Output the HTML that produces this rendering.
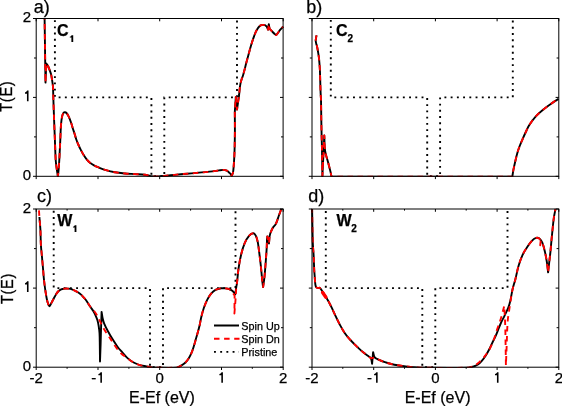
<!DOCTYPE html>
<html><head><meta charset="utf-8"><style>
html,body{margin:0;padding:0;background:#fff;width:562px;height:406px;overflow:hidden}
svg{display:block;will-change:transform;font-family:"Liberation Sans",sans-serif}
</style></head><body>
<svg width="562" height="406" viewBox="0 0 562 406">
<defs><clipPath id="cla"><rect x="35.2" y="18.0" width="248.9" height="158.8"/></clipPath><clipPath id="clb"><rect x="311.0" y="18.0" width="248.8" height="158.8"/></clipPath><clipPath id="clc"><rect x="35.2" y="208.5" width="248.9" height="159.2"/></clipPath><clipPath id="cld"><rect x="311.0" y="208.5" width="248.8" height="159.2"/></clipPath></defs>
<rect width="562" height="406" fill="#fff"/>
<g clip-path="url(#cla)">
<polyline points="54.9,18.5 54.9,97.4 151.4,97.4 151.4,176.3 164.3,176.3 164.3,97.4 237.0,97.4 237.0,18.5" fill="none" stroke="#000" stroke-width="1.9" stroke-dasharray="1.9 4.33" stroke-dashoffset="4.58"/>
<path d="M44.60 18.40C44.70 25.60 44.80 32.80 44.90 40.00C45.00 47.33 45.10 54.67 45.20 62.00C45.30 68.87 45.40 75.73 45.50 82.60L46.30 63.50C46.87 64.33 47.54 65.11 48.00 66.00C48.61 67.18 49.03 68.45 49.50 69.70C50.03 71.12 50.63 72.53 51.00 74.00C51.46 75.80 51.71 77.66 52.00 79.50C52.34 81.66 52.75 83.82 52.90 86.00C53.22 90.65 53.24 95.33 53.40 100.00C53.64 106.67 53.85 113.33 54.10 120.00C54.35 126.67 54.63 133.33 54.90 140.00C55.17 146.67 55.30 153.34 55.70 160.00C55.86 162.68 56.24 165.34 56.60 168.00C56.97 170.77 57.47 173.53 57.90 176.30C58.13 174.20 58.42 172.10 58.60 170.00C58.89 166.67 59.10 163.34 59.30 160.00C59.50 156.67 59.63 153.33 59.80 150.00C59.97 146.67 60.15 143.33 60.30 140.00C60.48 136.00 60.56 132.00 60.80 128.00C60.96 125.33 61.15 122.65 61.50 120.00C61.72 118.32 62.01 116.61 62.50 115.00C62.75 114.18 63.16 113.31 63.70 112.70C63.96 112.41 64.51 112.26 64.90 112.30C65.44 112.36 66.10 112.60 66.50 113.00C67.20 113.70 67.71 114.69 68.20 115.60C68.77 116.66 69.25 117.78 69.70 118.90C70.25 120.25 70.74 121.62 71.20 123.00C71.71 124.55 72.11 126.14 72.60 127.70C73.21 129.64 73.89 131.56 74.50 133.50C75.12 135.49 75.61 137.53 76.30 139.50C76.95 141.36 77.72 143.19 78.50 145.00C79.22 146.66 79.98 148.29 80.80 149.90C81.65 151.56 82.52 153.22 83.50 154.80C84.48 156.38 85.53 157.96 86.70 159.40C87.69 160.62 88.79 161.80 90.00 162.80C91.22 163.80 92.60 164.65 94.00 165.40C95.60 166.25 97.31 166.92 99.00 167.60C100.98 168.39 102.96 169.20 105.00 169.80C108.29 170.77 111.63 171.68 115.00 172.30C118.29 172.91 121.66 173.20 125.00 173.50C128.32 173.80 131.67 173.88 135.00 174.10C138.33 174.32 141.70 174.37 145.00 174.80C146.86 175.04 148.65 175.78 150.50 176.10C152.08 176.38 153.70 176.61 155.30 176.60C158.26 176.58 161.24 176.28 164.20 176.00C168.37 175.61 172.53 175.00 176.70 174.60C182.63 174.03 188.57 173.63 194.50 173.10C200.44 172.57 206.38 172.06 212.30 171.40C214.51 171.16 216.70 170.70 218.90 170.40C220.40 170.20 221.91 169.84 223.40 169.90C224.55 169.94 225.79 170.18 226.80 170.70C227.93 171.28 228.88 172.28 229.80 173.20C230.55 173.95 231.13 174.87 231.80 175.70C232.20 174.67 232.80 173.68 233.00 172.60C233.47 170.02 233.59 167.34 233.80 164.70C234.06 161.40 234.25 158.10 234.40 154.80C234.55 151.50 234.63 148.20 234.70 144.90C234.80 139.93 234.88 134.97 234.90 130.00C234.92 124.00 234.83 118.00 234.80 112.00L235.80 97.00L237.00 109.50L239.10 95.00C239.33 92.67 239.52 90.33 239.80 88.00C239.99 86.46 240.20 84.92 240.50 83.40C240.73 82.25 241.05 81.12 241.40 80.00C241.88 78.48 242.56 77.03 243.00 75.50C244.26 71.06 245.32 66.56 246.50 62.10C247.48 58.40 248.49 54.70 249.50 51.00C250.02 49.10 250.53 47.19 251.10 45.30C251.80 42.99 252.50 40.68 253.30 38.40C254.10 36.14 254.91 33.87 255.90 31.70C256.51 30.37 257.25 29.08 258.10 27.90C258.72 27.05 259.45 26.17 260.30 25.60C260.95 25.17 261.82 24.97 262.60 24.90C263.32 24.84 264.12 24.96 264.80 25.20C265.45 25.43 266.00 25.93 266.60 26.30L268.10 29.70L268.80 24.10L269.60 28.90C270.47 29.77 271.33 30.63 272.20 31.50C272.93 32.23 273.62 33.02 274.40 33.70C274.96 34.19 275.68 35.15 276.20 35.00C276.91 34.79 277.48 33.41 278.10 32.60C278.84 31.64 279.52 30.62 280.30 29.70C281.18 28.66 282.17 27.70 283.10 26.70" fill="none" stroke="#000" stroke-width="1.9" stroke-linejoin="round"/>
<path d="M44.60 18.40C44.70 25.60 44.80 32.80 44.90 40.00C45.00 47.33 45.10 54.67 45.20 62.00C45.30 68.87 45.40 75.73 45.50 82.60L46.30 63.50C46.87 64.33 47.54 65.11 48.00 66.00C48.61 67.18 49.03 68.45 49.50 69.70C50.03 71.12 50.63 72.53 51.00 74.00C51.46 75.80 51.71 77.66 52.00 79.50C52.34 81.66 52.75 83.82 52.90 86.00C53.22 90.65 53.24 95.33 53.40 100.00C53.64 106.67 53.85 113.33 54.10 120.00C54.35 126.67 54.63 133.33 54.90 140.00C55.17 146.67 55.30 153.34 55.70 160.00C55.86 162.68 56.24 165.34 56.60 168.00C56.97 170.77 57.47 173.53 57.90 176.30C58.13 174.20 58.42 172.10 58.60 170.00C58.89 166.67 59.10 163.34 59.30 160.00C59.50 156.67 59.63 153.33 59.80 150.00C59.97 146.67 60.15 143.33 60.30 140.00C60.48 136.00 60.56 132.00 60.80 128.00C60.96 125.33 61.15 122.65 61.50 120.00C61.72 118.32 62.01 116.61 62.50 115.00C62.75 114.18 63.16 113.31 63.70 112.70C63.96 112.41 64.51 112.26 64.90 112.30C65.44 112.36 66.10 112.60 66.50 113.00C67.20 113.70 67.71 114.69 68.20 115.60C68.77 116.66 69.25 117.78 69.70 118.90C70.25 120.25 70.74 121.62 71.20 123.00C71.71 124.55 72.11 126.14 72.60 127.70C73.21 129.64 73.89 131.56 74.50 133.50C75.12 135.49 75.61 137.53 76.30 139.50C76.95 141.36 77.72 143.19 78.50 145.00C79.22 146.66 79.98 148.29 80.80 149.90C81.65 151.56 82.52 153.22 83.50 154.80C84.48 156.38 85.53 157.96 86.70 159.40C87.69 160.62 88.79 161.80 90.00 162.80C91.22 163.80 92.60 164.65 94.00 165.40C95.60 166.25 97.31 166.92 99.00 167.60C100.98 168.39 102.96 169.20 105.00 169.80C108.29 170.77 111.63 171.68 115.00 172.30C118.29 172.91 121.66 173.20 125.00 173.50C128.32 173.80 131.67 173.88 135.00 174.10C138.33 174.32 141.70 174.37 145.00 174.80C146.86 175.04 148.65 175.78 150.50 176.10C152.08 176.38 153.70 176.61 155.30 176.60C158.26 176.58 161.24 176.28 164.20 176.00C168.37 175.61 172.53 175.00 176.70 174.60C182.63 174.03 188.57 173.63 194.50 173.10C200.44 172.57 206.38 172.06 212.30 171.40C214.51 171.16 216.70 170.70 218.90 170.40C220.40 170.20 221.91 169.84 223.40 169.90C224.55 169.94 225.79 170.18 226.80 170.70C227.93 171.28 228.88 172.28 229.80 173.20C230.55 173.95 231.13 174.87 231.80 175.70C232.20 174.67 232.80 173.68 233.00 172.60C233.47 170.02 233.59 167.34 233.80 164.70C234.06 161.40 234.25 158.10 234.40 154.80C234.55 151.50 234.63 148.20 234.70 144.90C234.80 139.93 234.88 134.97 234.90 130.00C234.92 124.00 234.83 118.00 234.80 112.00L235.80 97.00L237.00 109.50L239.10 95.00C239.33 92.67 239.52 90.33 239.80 88.00C239.99 86.46 240.20 84.92 240.50 83.40C240.73 82.25 241.05 81.12 241.40 80.00C241.88 78.48 242.56 77.03 243.00 75.50C244.26 71.06 245.32 66.56 246.50 62.10C247.48 58.40 248.49 54.70 249.50 51.00C250.02 49.10 250.53 47.19 251.10 45.30C251.80 42.99 252.50 40.68 253.30 38.40C254.10 36.14 254.91 33.87 255.90 31.70C256.51 30.37 257.25 29.08 258.10 27.90C258.72 27.05 259.45 26.17 260.30 25.60C260.95 25.17 261.82 24.97 262.60 24.90C263.32 24.84 264.12 24.96 264.80 25.20C265.45 25.43 266.00 25.93 266.60 26.30L268.10 29.70L268.80 24.10L269.60 28.90C270.47 29.77 271.33 30.63 272.20 31.50C272.93 32.23 273.62 33.02 274.40 33.70C274.96 34.19 275.68 35.15 276.20 35.00C276.91 34.79 277.48 33.41 278.10 32.60C278.84 31.64 279.52 30.62 280.30 29.70C281.18 28.66 282.17 27.70 283.10 26.70" fill="none" stroke="#f00" stroke-width="1.9" stroke-dasharray="5.5 4.5" stroke-dashoffset="4.50" stroke-linejoin="round"/>
</g>
<g clip-path="url(#clb)">
<polyline points="330.8,18.5 330.8,97.4 427.2,97.4 427.2,176.3 440.1,176.3 440.1,97.4 512.8,97.4 512.8,18.5" fill="none" stroke="#000" stroke-width="1.9" stroke-dasharray="1.9 4.33" stroke-dashoffset="4.78"/>
<path d="M316.50 35.40C316.23 37.10 315.74 38.80 315.70 40.50C315.67 41.67 316.03 42.85 316.30 44.00C316.43 44.58 316.77 45.11 316.90 45.70C317.34 47.65 317.67 49.63 318.00 51.60C318.33 53.56 318.66 55.53 318.90 57.50C319.16 59.66 319.33 61.83 319.50 64.00C319.66 66.00 319.81 68.00 319.90 70.00C320.04 73.26 320.10 76.53 320.20 79.80C320.33 84.07 320.43 88.33 320.60 92.60C320.70 95.07 320.94 97.53 321.00 100.00C321.17 106.66 321.19 113.33 321.30 120.00C321.39 125.00 321.48 130.00 321.60 135.00C321.72 140.00 321.90 145.00 322.00 150.00C322.17 158.73 322.27 167.47 322.40 176.20L324.30 135.50C324.57 140.63 324.39 145.83 325.10 150.90C325.63 154.67 327.04 158.30 328.00 162.00C328.84 165.26 329.72 168.52 330.50 171.80C330.89 173.42 331.17 175.07 331.50 176.70L512.30 176.70C512.70 174.27 513.03 171.82 513.50 169.40C514.06 166.52 514.74 163.66 515.40 160.80C515.97 158.33 516.49 155.84 517.20 153.40C517.93 150.90 518.78 148.43 519.70 146.00C520.65 143.50 521.73 141.05 522.80 138.60C523.99 135.88 525.24 133.19 526.50 130.50C527.30 128.79 527.97 126.98 529.00 125.40C530.94 122.41 532.99 119.41 535.40 116.80C538.09 113.88 541.21 111.31 544.30 108.80C547.11 106.51 550.13 104.47 553.10 102.40C554.86 101.17 556.70 100.07 558.50 98.90" fill="none" stroke="#000" stroke-width="1.9" stroke-linejoin="round"/>
<path d="M316.50 35.40C316.23 37.10 315.74 38.80 315.70 40.50C315.67 41.67 316.03 42.85 316.30 44.00C316.43 44.58 316.77 45.11 316.90 45.70C317.34 47.65 317.67 49.63 318.00 51.60C318.33 53.56 318.66 55.53 318.90 57.50C319.16 59.66 319.33 61.83 319.50 64.00C319.66 66.00 319.81 68.00 319.90 70.00C320.04 73.26 320.10 76.53 320.20 79.80C320.33 84.07 320.43 88.33 320.60 92.60C320.70 95.07 320.94 97.53 321.00 100.00C321.17 106.66 321.19 113.33 321.30 120.00C321.39 125.00 321.48 130.00 321.60 135.00C321.72 140.00 321.90 145.00 322.00 150.00C322.17 158.73 322.27 167.47 322.40 176.20L324.30 135.50C324.57 140.63 324.39 145.83 325.10 150.90C325.63 154.67 327.04 158.30 328.00 162.00C328.84 165.26 329.72 168.52 330.50 171.80C330.89 173.42 331.17 175.07 331.50 176.70L512.30 176.70C512.70 174.27 513.03 171.82 513.50 169.40C514.06 166.52 514.74 163.66 515.40 160.80C515.97 158.33 516.49 155.84 517.20 153.40C517.93 150.90 518.78 148.43 519.70 146.00C520.65 143.50 521.73 141.05 522.80 138.60C523.99 135.88 525.24 133.19 526.50 130.50C527.30 128.79 527.97 126.98 529.00 125.40C530.94 122.41 532.99 119.41 535.40 116.80C538.09 113.88 541.21 111.31 544.30 108.80C547.11 106.51 550.13 104.47 553.10 102.40C554.86 101.17 556.70 100.07 558.50 98.90" fill="none" stroke="#f00" stroke-width="1.9" stroke-dasharray="5.5 4.5" stroke-dashoffset="0.00" stroke-linejoin="round"/>
</g>
<g clip-path="url(#clc)">
<polyline points="53.7,209.0 53.7,288.1 150.0,288.1 150.0,367.2 163.0,367.2 163.0,288.1 235.5,288.1 235.5,209.0" fill="none" stroke="#000" stroke-width="1.9" stroke-dasharray="1.9 4.33" stroke-dashoffset="4.38"/>
<path d="M39.40 217.00C39.73 221.20 40.17 225.39 40.40 229.60C40.67 234.73 40.61 239.87 40.90 245.00C41.11 248.67 41.57 252.33 41.90 256.00C42.30 260.50 42.71 265.00 43.10 269.50C43.34 272.33 43.53 275.17 43.80 278.00C44.03 280.34 44.30 282.67 44.60 285.00C44.90 287.34 45.23 289.67 45.60 292.00C45.97 294.34 46.31 296.69 46.80 299.00C47.14 300.62 47.55 302.25 48.10 303.80C48.41 304.68 48.93 306.23 49.40 306.30C49.83 306.36 50.38 304.93 50.80 304.20C51.35 303.23 51.79 302.19 52.30 301.20C52.82 300.19 53.35 299.19 53.90 298.20C54.59 296.96 55.25 295.70 56.00 294.50C56.65 293.47 57.29 292.39 58.10 291.50C58.69 290.86 59.45 290.34 60.20 289.90C60.88 289.51 61.64 289.21 62.40 289.00C63.24 288.77 64.13 288.67 65.00 288.60C65.89 288.53 66.81 288.51 67.70 288.60C69.14 288.74 70.64 288.82 72.00 289.30C73.88 289.96 75.65 291.02 77.40 292.00C78.32 292.52 79.18 293.14 80.00 293.80C80.95 294.57 81.85 295.42 82.70 296.30C83.68 297.32 84.64 298.38 85.50 299.50C86.40 300.68 87.17 301.96 88.00 303.20C88.84 304.46 89.65 305.74 90.50 307.00C91.45 308.41 92.52 309.75 93.40 311.20C94.19 312.51 94.87 313.90 95.50 315.30C96.17 316.77 96.83 318.26 97.30 319.80C97.86 321.66 98.28 323.58 98.60 325.50C99.01 327.98 99.35 330.49 99.50 333.00C99.75 336.99 99.73 341.00 99.80 345.00C99.90 350.50 99.93 356.00 100.00 361.50C100.20 356.00 100.43 350.50 100.60 345.00C100.76 340.00 100.85 335.00 101.00 330.00C101.18 323.97 101.40 317.93 101.60 311.90C101.97 314.10 102.22 316.33 102.70 318.50C103.08 320.23 103.53 321.96 104.20 323.60C105.23 326.13 106.50 328.59 107.80 331.00C109.37 333.92 111.06 336.78 112.80 339.60C114.36 342.11 115.94 344.63 117.70 347.00C119.11 348.90 120.75 350.62 122.30 352.40C123.68 353.98 125.00 355.64 126.50 357.10C127.83 358.40 129.27 359.64 130.80 360.70C132.37 361.78 134.07 362.70 135.80 363.50C137.40 364.24 139.10 364.84 140.80 365.30C142.66 365.80 144.61 366.01 146.50 366.40C147.67 366.64 148.82 367.03 150.00 367.20C151.65 367.43 153.33 367.57 155.00 367.60C162.20 367.71 169.52 368.14 176.60 367.60C178.22 367.48 179.68 366.41 181.10 365.60C182.65 364.71 184.21 363.72 185.50 362.50C186.78 361.29 187.86 359.80 188.80 358.30C189.90 356.54 190.80 354.62 191.60 352.70C192.47 350.62 193.13 348.45 193.80 346.30C194.59 343.75 195.27 341.17 196.00 338.60C196.77 335.90 197.56 333.21 198.30 330.50C198.80 328.67 199.29 326.85 199.70 325.00C200.29 322.35 200.66 319.64 201.30 317.00C202.06 313.91 202.86 310.81 203.90 307.80C204.83 305.11 205.91 302.43 207.20 299.90C208.31 297.73 209.56 295.56 211.10 293.70C212.32 292.22 213.84 290.81 215.50 289.90C217.14 289.01 219.13 288.58 221.00 288.30C222.47 288.08 224.01 288.27 225.50 288.40C226.64 288.50 227.83 288.63 228.90 289.00C229.96 289.36 230.99 289.95 231.90 290.60C232.75 291.21 233.48 292.02 234.20 292.80C234.62 293.25 234.93 293.80 235.30 294.30C235.63 291.83 235.93 289.36 236.30 286.90C236.47 285.79 236.76 284.71 236.90 283.60C237.53 278.44 237.85 273.24 238.60 268.10C239.28 263.47 240.09 258.84 241.20 254.30C242.12 250.54 243.20 246.75 244.70 243.20C245.80 240.59 247.19 237.89 249.00 235.80C250.05 234.59 251.97 233.30 253.30 233.30C254.27 233.30 255.38 234.76 255.90 235.80C256.88 237.76 257.33 240.10 257.80 242.30C258.33 244.83 258.57 247.43 258.90 250.00C259.53 254.90 260.16 259.79 260.70 264.70C261.33 270.43 261.79 276.17 262.40 281.90C262.59 283.64 262.87 285.37 263.10 287.10C263.57 283.63 264.15 280.18 264.50 276.70C265.08 270.98 265.46 265.24 265.90 259.50C266.19 255.67 266.48 251.84 266.70 248.00C266.85 245.34 266.86 242.66 267.00 240.00C267.06 238.83 267.20 237.67 267.30 236.50L269.00 243.50L269.60 236.00C269.90 234.93 270.10 233.83 270.50 232.80C271.14 231.13 271.79 229.43 272.70 227.90C273.46 226.63 274.72 225.66 275.50 224.40C276.19 223.29 276.63 222.02 277.10 220.80C277.73 219.16 278.21 217.46 278.80 215.80C279.61 213.52 280.47 211.27 281.30 209.00" fill="none" stroke="#000" stroke-width="1.9" stroke-linejoin="round"/>
<path d="M39.00 210.40C39.07 211.60 39.13 212.80 39.20 214.00C39.26 215.00 39.32 216.00 39.40 217.00C39.72 221.20 40.17 225.39 40.40 229.60C40.67 234.73 40.61 239.87 40.90 245.00C41.11 248.67 41.57 252.33 41.90 256.00C42.30 260.50 42.71 265.00 43.10 269.50C43.34 272.33 43.53 275.17 43.80 278.00C44.03 280.34 44.30 282.67 44.60 285.00C44.90 287.34 45.23 289.67 45.60 292.00C45.97 294.34 46.31 296.69 46.80 299.00C47.14 300.62 47.55 302.25 48.10 303.80C48.41 304.68 48.93 306.23 49.40 306.30C49.83 306.36 50.38 304.93 50.80 304.20C51.35 303.23 51.79 302.19 52.30 301.20C52.82 300.19 53.35 299.19 53.90 298.20C54.59 296.96 55.25 295.70 56.00 294.50C56.65 293.47 57.29 292.39 58.10 291.50C58.69 290.86 59.45 290.34 60.20 289.90C60.88 289.51 61.64 289.21 62.40 289.00C63.24 288.77 64.13 288.67 65.00 288.60C65.89 288.53 66.81 288.51 67.70 288.60C69.14 288.74 70.64 288.82 72.00 289.30C73.88 289.96 75.65 291.02 77.40 292.00C78.32 292.52 79.18 293.14 80.00 293.80C80.95 294.57 81.85 295.42 82.70 296.30C83.68 297.32 84.64 298.38 85.50 299.50C86.40 300.68 87.17 301.96 88.00 303.20C88.84 304.46 89.56 305.82 90.50 307.00C91.53 308.29 92.87 309.32 93.90 310.60C94.87 311.82 95.71 313.16 96.50 314.50C97.47 316.16 98.32 317.89 99.20 319.60C100.66 322.45 101.96 325.39 103.50 328.20C104.50 330.02 105.66 331.76 106.80 333.50C107.93 335.23 109.15 336.89 110.30 338.60C112.39 341.72 114.28 344.98 116.50 348.00C118.01 350.05 119.66 352.05 121.50 353.80C122.99 355.22 124.83 356.26 126.50 357.50C127.93 358.56 129.30 359.73 130.80 360.70C132.40 361.73 134.07 362.70 135.80 363.50C137.40 364.24 139.10 364.84 140.80 365.30C142.66 365.80 144.61 366.01 146.50 366.40C147.67 366.64 148.82 367.03 150.00 367.20C151.65 367.43 153.33 367.57 155.00 367.60C162.20 367.71 169.52 368.14 176.60 367.60C178.22 367.48 179.68 366.41 181.10 365.60C182.65 364.71 184.21 363.72 185.50 362.50C186.78 361.29 187.86 359.80 188.80 358.30C189.90 356.54 190.80 354.62 191.60 352.70C192.47 350.62 193.13 348.45 193.80 346.30C194.59 343.75 195.27 341.17 196.00 338.60C196.77 335.90 197.56 333.21 198.30 330.50C198.80 328.67 199.29 326.85 199.70 325.00C200.29 322.35 200.66 319.64 201.30 317.00C202.06 313.91 202.86 310.81 203.90 307.80C204.83 305.11 205.91 302.43 207.20 299.90C208.31 297.73 209.56 295.56 211.10 293.70C212.32 292.22 213.84 290.81 215.50 289.90C217.14 289.01 219.13 288.58 221.00 288.30C222.47 288.08 224.01 288.27 225.50 288.40C226.64 288.50 227.91 288.50 228.90 289.00C230.04 289.57 231.04 290.61 231.90 291.60C232.94 292.81 233.70 294.27 234.60 295.60L234.40 313.50C234.77 309.00 235.17 304.50 235.50 300.00C235.81 295.80 235.94 291.59 236.30 287.40C236.41 286.12 236.75 284.87 236.90 283.60C237.51 278.44 237.85 273.24 238.60 268.10C239.28 263.47 240.09 258.84 241.20 254.30C242.12 250.54 243.20 246.75 244.70 243.20C245.80 240.59 247.19 237.89 249.00 235.80C250.05 234.59 251.97 233.30 253.30 233.30C254.27 233.30 255.38 234.76 255.90 235.80C256.88 237.76 257.33 240.10 257.80 242.30C258.33 244.83 258.57 247.43 258.90 250.00C259.53 254.90 260.16 259.79 260.70 264.70C261.33 270.43 261.79 276.17 262.40 281.90C262.59 283.64 262.87 285.37 263.10 287.10C263.57 283.63 264.15 280.18 264.50 276.70C265.08 270.98 265.46 265.24 265.90 259.50C266.19 255.67 266.48 251.84 266.70 248.00C266.85 245.34 266.86 242.66 267.00 240.00C267.06 238.83 267.20 237.67 267.30 236.50L269.00 243.50L269.60 236.00C269.90 234.93 270.10 233.83 270.50 232.80C271.14 231.13 271.79 229.43 272.70 227.90C273.46 226.63 274.72 225.66 275.50 224.40C276.19 223.29 276.63 222.02 277.10 220.80C277.73 219.16 278.21 217.46 278.80 215.80C279.61 213.52 280.47 211.27 281.30 209.00" fill="none" stroke="#f00" stroke-width="1.9" stroke-dasharray="5.5 4.5" stroke-dashoffset="0.00" stroke-linejoin="round"/>
</g>
<g clip-path="url(#cld)">
<polyline points="325.8,209.0 325.8,288.1 422.3,288.1 422.3,367.2 435.3,367.2 435.3,288.1 507.5,288.1 507.5,209.0" fill="none" stroke="#000" stroke-width="1.9" stroke-dasharray="1.9 4.33" stroke-dashoffset="4.18"/>
<path d="M312.10 209.00C312.23 216.00 312.34 223.00 312.50 230.00C312.61 235.00 312.68 240.00 312.90 245.00C313.05 248.27 313.43 251.53 313.60 254.80C313.86 259.70 313.96 264.60 314.20 269.50C314.29 271.34 314.47 273.17 314.60 275.00C314.74 276.97 314.83 278.94 315.00 280.90C315.13 282.37 315.21 283.86 315.50 285.30C315.64 286.00 315.85 286.81 316.30 287.30C316.68 287.71 317.41 287.90 318.00 288.00C318.61 288.10 319.44 287.56 319.90 287.90C320.91 288.66 321.63 290.13 322.40 291.30C323.10 292.36 323.64 293.52 324.30 294.60C325.00 295.75 325.80 296.85 326.50 298.00C327.54 299.71 328.54 301.44 329.50 303.20C330.11 304.31 330.66 305.46 331.20 306.60C332.66 309.66 334.04 312.75 335.50 315.80C336.91 318.75 338.26 321.72 339.80 324.60C341.33 327.46 342.90 330.32 344.70 333.00C346.16 335.18 347.87 337.22 349.60 339.20C351.17 340.99 352.92 342.62 354.60 344.30C356.15 345.85 357.70 347.41 359.30 348.90C360.66 350.17 362.05 351.43 363.50 352.60C364.89 353.73 366.38 354.72 367.80 355.80C368.84 356.59 370.32 357.12 370.90 358.20C371.75 359.78 371.70 361.93 372.10 363.80L373.10 352.10C373.63 353.87 373.70 356.01 374.70 357.40C375.50 358.51 377.18 358.98 378.50 359.60C380.58 360.58 382.73 361.45 384.90 362.20C386.99 362.92 389.15 363.48 391.30 364.00C393.41 364.51 395.56 364.93 397.70 365.30C399.82 365.66 401.96 365.93 404.10 366.20C406.23 366.47 408.36 366.71 410.50 366.90C413.66 367.18 416.83 367.56 420.00 367.60C436.09 367.79 452.26 368.07 468.30 367.60C470.56 367.53 472.75 366.67 474.90 366.00C475.95 365.67 477.03 365.26 477.90 364.60C479.33 363.52 480.62 362.17 481.80 360.80C483.25 359.11 484.59 357.28 485.80 355.40C487.23 353.18 488.49 350.85 489.70 348.50C490.79 346.38 491.67 344.15 492.70 342.00C493.67 339.95 494.77 337.97 495.70 335.90C496.57 333.97 497.31 331.97 498.10 330.00C498.97 327.84 499.74 325.63 500.70 323.50C501.91 320.83 503.33 318.25 504.60 315.60C505.86 312.98 507.27 310.41 508.30 307.70C509.24 305.21 509.90 302.60 510.50 300.00C511.23 296.86 511.61 293.65 512.30 290.50C512.78 288.31 513.40 286.16 514.00 284.00C514.37 282.66 514.86 281.35 515.20 280.00C516.39 275.25 517.22 270.39 518.60 265.70C519.69 261.99 520.98 258.30 522.60 254.80C523.91 251.96 525.66 249.30 527.40 246.70C528.82 244.57 530.31 242.39 532.10 240.60C533.24 239.46 534.74 238.32 536.20 237.90C537.17 237.62 538.60 237.88 539.40 238.50C540.63 239.45 541.67 241.07 542.30 242.60C543.54 245.61 544.26 248.90 545.00 252.10C545.82 255.66 546.45 259.28 547.00 262.90C547.48 266.05 547.73 269.23 548.10 272.40C548.40 269.70 548.69 267.00 549.00 264.30C549.46 260.23 549.98 256.17 550.40 252.10C550.85 247.74 551.18 243.37 551.60 239.00C551.98 235.00 552.38 231.00 552.80 227.00C553.14 223.76 553.42 220.52 553.90 217.30C554.32 214.52 554.97 211.77 555.50 209.00" fill="none" stroke="#000" stroke-width="1.9" stroke-linejoin="round"/>
<path d="M312.10 209.00C312.23 216.00 312.34 223.00 312.50 230.00C312.61 235.00 312.68 240.00 312.90 245.00C313.05 248.27 313.43 251.53 313.60 254.80C313.86 259.70 313.96 264.60 314.20 269.50C314.29 271.34 314.47 273.17 314.60 275.00C314.74 276.97 314.83 278.94 315.00 280.90C315.13 282.37 315.21 283.86 315.50 285.30C315.64 286.00 315.85 286.81 316.30 287.30C316.68 287.71 317.41 287.90 318.00 288.00C318.61 288.10 319.44 287.56 319.90 287.90C320.91 288.66 321.63 290.13 322.40 291.30C323.10 292.36 323.64 293.52 324.30 294.60C325.00 295.75 325.80 296.85 326.50 298.00C327.54 299.71 328.54 301.44 329.50 303.20C330.11 304.31 330.66 305.46 331.20 306.60C332.66 309.66 334.04 312.75 335.50 315.80C336.91 318.75 338.26 321.72 339.80 324.60C341.33 327.46 342.90 330.32 344.70 333.00C346.16 335.18 347.87 337.22 349.60 339.20C351.17 340.99 352.92 342.62 354.60 344.30C356.15 345.85 357.70 347.41 359.30 348.90C360.66 350.17 362.05 351.43 363.50 352.60C364.89 353.73 366.38 354.72 367.80 355.80C368.84 356.59 369.74 357.90 370.90 358.20C372.04 358.50 373.50 357.38 374.70 357.60C376.04 357.85 377.20 359.01 378.50 359.60C380.60 360.55 382.73 361.45 384.90 362.20C386.99 362.92 389.15 363.48 391.30 364.00C393.41 364.51 395.56 364.93 397.70 365.30C399.82 365.66 401.96 365.93 404.10 366.20C406.23 366.47 408.36 366.71 410.50 366.90C413.66 367.18 416.83 367.56 420.00 367.60C436.09 367.79 452.29 368.19 468.30 367.60C470.46 367.52 472.60 366.58 474.50 365.60C476.46 364.58 478.25 363.10 479.90 361.60C481.58 360.07 483.07 358.28 484.50 356.50C486.04 354.58 487.62 352.65 488.80 350.50C490.68 347.08 492.26 343.44 493.70 339.80C494.89 336.78 495.66 333.59 496.70 330.50C498.02 326.59 499.59 322.75 500.80 318.80C502.12 314.51 503.13 310.13 504.30 305.80C504.60 312.20 504.99 318.60 505.20 325.00C505.42 331.66 505.48 338.33 505.60 345.00C505.72 351.83 505.80 358.67 505.90 365.50C506.17 358.67 506.45 351.83 506.70 345.00C506.88 340.00 506.97 335.00 507.20 330.00C507.37 326.33 507.53 322.65 507.90 319.00C508.20 315.99 508.76 313.00 509.20 310.00C509.69 306.67 510.17 303.33 510.70 300.00C511.20 296.83 511.65 293.64 512.30 290.50C512.75 288.31 513.40 286.16 514.00 284.00C514.37 282.66 514.86 281.35 515.20 280.00C516.39 275.25 517.22 270.39 518.60 265.70C519.69 261.99 520.98 258.30 522.60 254.80C523.91 251.96 525.66 249.30 527.40 246.70C528.82 244.57 530.31 242.39 532.10 240.60C533.24 239.46 534.74 238.32 536.20 237.90C537.17 237.62 538.50 238.10 539.40 238.50C539.70 238.63 539.67 239.17 539.80 239.50L540.20 245.30L540.70 240.50C541.23 241.20 542.00 241.78 542.30 242.60C543.43 245.65 544.26 248.90 545.00 252.10C545.82 255.66 546.45 259.28 547.00 262.90C547.48 266.05 547.73 269.23 548.10 272.40C548.40 269.70 548.69 267.00 549.00 264.30C549.46 260.23 549.98 256.17 550.40 252.10C550.85 247.74 551.18 243.37 551.60 239.00C551.98 235.00 552.38 231.00 552.80 227.00C553.14 223.76 553.42 220.52 553.90 217.30C554.32 214.52 554.97 211.77 555.50 209.00" fill="none" stroke="#f00" stroke-width="1.9" stroke-dasharray="5.5 4.5" stroke-dashoffset="2.00" stroke-linejoin="round"/>
</g>
<g clip-path="url(#cld)"><line x1="322.6" y1="292.5" x2="325.9" y2="297.3" stroke="#f00" stroke-width="3.4" stroke-linecap="round"/></g>
<rect x="36.2" y="18.5" width="246.9" height="157.8" fill="none" stroke="#000" stroke-width="1"/>
<path d="M36.2 176.3v2.8M36.2 18.5v2.8M98.0 176.3v2.8M98.0 18.5v2.8M159.7 176.3v2.8M159.7 18.5v2.8M221.5 176.3v2.8M221.5 18.5v2.8M283.2 176.3v2.8M283.2 18.5v2.8M36.2 176.3h-3.2M283.2 176.3h-3.2M36.2 136.9h-2.2M283.2 136.9h-2.2M36.2 97.4h-3.2M283.2 97.4h-3.2M36.2 58.0h-2.2M283.2 58.0h-2.2M36.2 18.5h-3.2M283.2 18.5h-3.2" stroke="#000" stroke-width="1" fill="none"/>
<rect x="312.0" y="18.5" width="246.8" height="157.8" fill="none" stroke="#000" stroke-width="1"/>
<path d="M312.0 176.3v2.8M312.0 18.5v2.8M373.7 176.3v2.8M373.7 18.5v2.8M435.4 176.3v2.8M435.4 18.5v2.8M497.1 176.3v2.8M497.1 18.5v2.8M558.8 176.3v2.8M558.8 18.5v2.8M312.0 176.3h-3.2M558.8 176.3h-3.2M312.0 136.9h-2.2M558.8 136.9h-2.2M312.0 97.4h-3.2M558.8 97.4h-3.2M312.0 58.0h-2.2M558.8 58.0h-2.2M312.0 18.5h-3.2M558.8 18.5h-3.2" stroke="#000" stroke-width="1" fill="none"/>
<rect x="36.2" y="209.0" width="246.9" height="158.2" fill="none" stroke="#000" stroke-width="1"/>
<path d="M36.2 367.2v2.8M36.2 209.0v2.8M67.1 367.2v1.6M67.1 209.0v1.6M98.0 367.2v2.8M98.0 209.0v2.8M128.9 367.2v1.6M128.9 209.0v1.6M159.7 367.2v2.8M159.7 209.0v2.8M190.6 367.2v1.6M190.6 209.0v1.6M221.5 367.2v2.8M221.5 209.0v2.8M252.3 367.2v1.6M252.3 209.0v1.6M283.2 367.2v2.8M283.2 209.0v2.8M36.2 367.2h-3.2M283.2 367.2h-3.2M36.2 327.7h-2.2M283.2 327.7h-2.2M36.2 288.1h-3.2M283.2 288.1h-3.2M36.2 248.6h-2.2M283.2 248.6h-2.2M36.2 209.0h-3.2M283.2 209.0h-3.2" stroke="#000" stroke-width="1" fill="none"/>
<rect x="312.0" y="209.0" width="246.8" height="158.2" fill="none" stroke="#000" stroke-width="1"/>
<path d="M312.0 367.2v2.8M312.0 209.0v2.8M342.8 367.2v1.6M342.8 209.0v1.6M373.7 367.2v2.8M373.7 209.0v2.8M404.5 367.2v1.6M404.5 209.0v1.6M435.4 367.2v2.8M435.4 209.0v2.8M466.2 367.2v1.6M466.2 209.0v1.6M497.1 367.2v2.8M497.1 209.0v2.8M527.9 367.2v1.6M527.9 209.0v1.6M558.8 367.2v2.8M558.8 209.0v2.8M312.0 367.2h-3.2M558.8 367.2h-3.2M312.0 327.7h-2.2M558.8 327.7h-2.2M312.0 288.1h-3.2M558.8 288.1h-3.2M312.0 248.6h-2.2M558.8 248.6h-2.2M312.0 209.0h-3.2M558.8 209.0h-3.2" stroke="#000" stroke-width="1" fill="none"/>
<line x1="214" y1="325.5" x2="239" y2="325.5" stroke="#000" stroke-width="2"/>
<line x1="214" y1="338.8" x2="239.5" y2="338.8" stroke="#f00" stroke-width="2" stroke-dasharray="5.5 4.6"/>
<line x1="214" y1="351.9" x2="239" y2="351.9" stroke="#000" stroke-width="1.9" stroke-dasharray="1.9 4.3"/>
<g font-family='&quot;Liberation Sans&quot;, sans-serif' fill="#000" stroke="#000" stroke-width="0.25">
<text x="33.8" y="12.8" font-size="18" text-anchor="start" font-weight="normal">a)</text>
<text x="306.3" y="12.8" font-size="18" text-anchor="start" font-weight="normal">b)</text>
<text x="36.9" y="202.2" font-size="18" text-anchor="start" font-weight="normal">c)</text>
<text x="308.2" y="202.0" font-size="18" text-anchor="start" font-weight="normal">d)</text>
<text x="31.2" y="22.3" font-size="15" text-anchor="end" font-weight="normal">2</text>
<path d="M28.54 90.59 L28.54 101.22 L26.96 101.22 L26.96 93.72 L25.01 93.72 L25.01 92.45 C26.21 92.38 27.04 91.04 27.11 90.59 Z" fill="#000" stroke="none"/>
<text x="31.2" y="180.2" font-size="15" text-anchor="end" font-weight="normal">0</text>
<text x="31.2" y="212.8" font-size="15" text-anchor="end" font-weight="normal">2</text>
<path d="M28.54 281.29 L28.54 291.93 L26.96 291.93 L26.96 284.43 L25.01 284.43 L25.01 283.15 C26.21 283.07 27.04 281.74 27.11 281.29 Z" fill="#000" stroke="none"/>
<text x="31.2" y="371.1" font-size="15" text-anchor="end" font-weight="normal">0</text>
<text x="36.2" y="382.8" font-size="15" text-anchor="middle" font-weight="normal">-2</text>
<text x="91.3" y="382.8" font-size="15" text-anchor="start" font-weight="normal">-</text>
<path d="M101.94 372.17 L101.94 382.80 L100.36 382.80 L100.36 375.30 L98.41 375.30 L98.41 374.03 C99.61 373.95 100.44 372.62 100.52 372.17 Z" fill="#000" stroke="none"/>
<text x="159.7" y="382.8" font-size="15" text-anchor="middle" font-weight="normal">0</text>
<path d="M222.92 372.17 L222.92 382.80 L221.34 382.80 L221.34 375.30 L219.39 375.30 L219.39 374.03 C220.59 373.95 221.42 372.62 221.49 372.17 Z" fill="#000" stroke="none"/>
<text x="283.2" y="382.8" font-size="15" text-anchor="middle" font-weight="normal">2</text>
<text x="312.0" y="382.8" font-size="15" text-anchor="middle" font-weight="normal">-2</text>
<text x="367.0" y="382.8" font-size="15" text-anchor="start" font-weight="normal">-</text>
<path d="M377.64 372.17 L377.64 382.80 L376.06 382.80 L376.06 375.30 L374.12 375.30 L374.12 374.03 C375.31 373.95 376.14 372.62 376.21 372.17 Z" fill="#000" stroke="none"/>
<text x="435.4" y="382.8" font-size="15" text-anchor="middle" font-weight="normal">0</text>
<path d="M498.52 372.17 L498.52 382.80 L496.94 382.80 L496.94 375.30 L494.99 375.30 L494.99 374.03 C496.19 373.95 497.02 372.62 497.09 372.17 Z" fill="#000" stroke="none"/>
<text x="558.8" y="382.8" font-size="15" text-anchor="middle" font-weight="normal">2</text>
<text x="129.0" y="403.0" font-size="16" text-anchor="start" font-weight="normal">E-Ef (eV)</text>
<text x="404.7" y="403.0" font-size="16" text-anchor="start" font-weight="normal">E-Ef (eV)</text>
<text transform="translate(12.2 111.7) rotate(-90) scale(0.85 1)" font-size="17" letter-spacing="0.86" stroke-width="0.35">T(E)</text>
<text transform="translate(12.7 304.0) rotate(-90) scale(0.85 1)" font-size="17" letter-spacing="0.86" stroke-width="0.35">T(E)</text>
<text x="57.0" y="36.0" font-size="16" font-weight="bold">C</text>
<path d="M73.22 35.28 L73.22 42.10 L71.40 42.10 L71.40 37.59 L69.77 37.59 L69.77 36.77 C71.11 36.72 71.45 35.57 71.50 35.28 Z" fill="#000" stroke="none"/>
<text x="335.9" y="35.9" font-size="16" font-weight="bold">C</text>
<text x="347.5" y="42.0" font-size="10" font-weight="bold">2</text>
<text x="57.3" y="225.7" font-size="16" font-weight="bold">W</text>
<path d="M76.42 225.28 L76.42 232.10 L74.60 232.10 L74.60 227.59 L72.97 227.59 L72.97 226.77 C74.31 226.72 74.65 225.57 74.70 225.28 Z" fill="#000" stroke="none"/>
<text x="336.6" y="225.7" font-size="16" font-weight="bold">W</text>
<text x="351.2" y="231.9" font-size="10" font-weight="bold">2</text>
<text x="241.3" y="329.8" font-size="10.8" text-anchor="start" font-weight="normal">Spin Up</text>
<text x="241.3" y="342.9" font-size="10.8" text-anchor="start" font-weight="normal">Spin Dn</text>
<text x="241.3" y="355.9" font-size="10.8" text-anchor="start" font-weight="normal">Pristine</text>
</g>
</svg>
</body></html>
